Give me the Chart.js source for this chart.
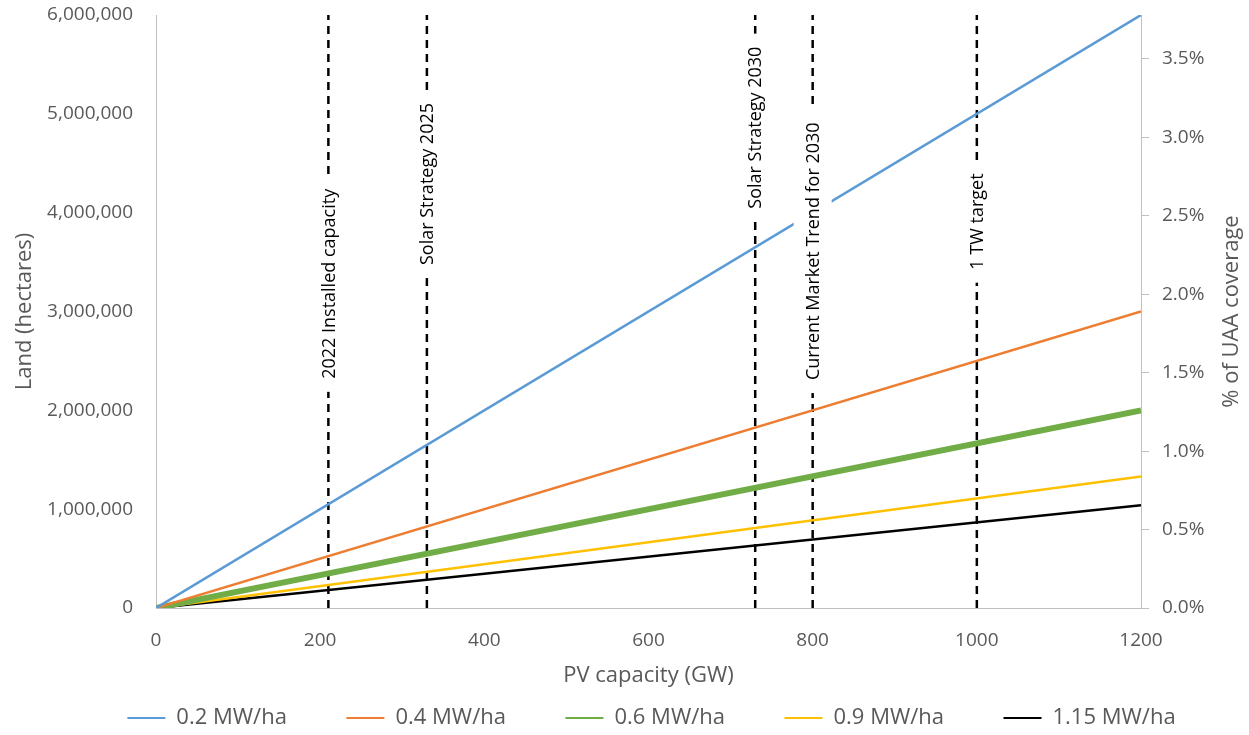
<!DOCTYPE html>
<html>
<head>
<meta charset="utf-8">
<script src="https://cdn.jsdelivr.net/npm/chart.js@4"></script>
<style>
  body { margin: 0; background: #fff; }
  canvas { display: block; }
</style>
</head>
<body>
<canvas id="landChart" width="1249" height="735"></canvas>
<script>
// PV capacity (GW) at the ends of each line
var capacity = [0, 1200]
// land needed (hectares) for each power density
var land02 = [0, 6000000]
var land04 = [0, 3000000]
var land06 = [0, 2000000]
var land09 = [0, 1330000]
var land115 = [0, 1040000]
var seriesNames = ['0.2 MW/ha', '0.4 MW/ha', '0.6 MW/ha', '0.9 MW/ha', '1.15 MW/ha']

// capacity milestones (GW) drawn as dashed verticals
var milestoneGW = [210, 330, 730, 800, 1000]
var milestoneNames = ['2022 Installed capacity', 'Solar Strategy 2025', 'Solar Strategy 2030',
                      'Current Market Trend for 2030', '1 TW target']
// where each milestone label sits, in hectares on the left axis
var milestoneLabelAt = [3280000, 4290000, 4860000, 3610000, 3910000]

var seriesColors = ['#5B9BD5', '#ED7D31', '#70AD47', '#FFC000', '#000000']
var seriesWidths = [2.5, 2.5, 6, 2.5, 2.5]
var GREY = '#595959'
var AXIS = '#BFBFBF'
var FONT = "'Open Sans', sans-serif"
var LEGEND_H = 35

function pairs(xs, ys) {
  return xs.map(function (x, i) { return {x: x, y: ys[i]} })
}

var datasets = [land02, land04, land06, land09, land115].map(function (vals, i) {
  return {
    label: seriesNames[i],
    data: pairs(capacity, vals),
    borderColor: seriesColors[i],
    backgroundColor: seriesColors[i],
    borderWidth: seriesWidths[i],
    pointRadius: 0,
    fill: false,
    yAxisID: 'y'
  }
})
milestoneGW.forEach(function (gw, i) {
  datasets.push({
    label: milestoneNames[i],
    isMilestone: true,
    data: pairs([gw, gw], [0, 6000000]),
    borderColor: '#000000',
    borderWidth: 2.5,
    borderDash: [8, 6],
    pointRadius: 0,
    fill: false,
    yAxisID: 'y'
  })
})

// legend items are spread wide (big label padding) but the legend box stays short
var legendSpacing = {
  id: 'legendSpacing',
  beforeLayout: function (chart) {
    var lg = chart.legend
    if (lg && !lg.patched) {
      var fit = lg.fit
      lg.fit = function () { fit.call(this); this.height = LEGEND_H }
      lg.patched = true
    }
  },
  afterLayout: function (chart) {
    var lg = chart.legend
    var pad = lg.options.labels.padding
    var size = lg.options.labels.font.size
    // put the row's middle at 718px
    lg.top = 718 - size / 2 - pad
  }
}

// white boxes with rotated captions over the milestone lines, plus right axis title
var milestoneLabels = {
  id: 'milestoneLabels',
  afterDatasetsDraw: function (chart) {
    var ctx = chart.ctx
    var xs = chart.scales.x, ys = chart.scales.y
    ctx.save()
    ctx.font = '18px ' + FONT
    milestoneGW.forEach(function (gw, i) {
      var px = xs.getPixelForValue(gw)
      var py = ys.getPixelForValue(milestoneLabelAt[i])
      var w = ctx.measureText(milestoneNames[i]).width
      ctx.fillStyle = '#ffffff'
      ctx.fillRect(px - 19, py - w / 2 - 13, 38, w + 26)
      ctx.save()
      ctx.translate(px, py)
      ctx.rotate(-Math.PI / 2)
      ctx.fillStyle = '#000000'
      ctx.textAlign = 'center'
      ctx.textBaseline = 'middle'
      ctx.fillText(milestoneNames[i], 0, 1)
      ctx.restore()
    })
    ctx.restore()
  },
  afterDraw: function (chart) {
    var ctx = chart.ctx
    var area = chart.chartArea
    ctx.save()
    ctx.font = '22px ' + FONT
    ctx.fillStyle = GREY
    ctx.translate(1232, (area.top + area.bottom) / 2)
    ctx.rotate(-Math.PI / 2)
    ctx.textAlign = 'center'
    ctx.textBaseline = 'middle'
    ctx.fillText('% of UAA coverage', 0, 0)
    ctx.restore()
  }
}

var chart = new Chart(document.getElementById('landChart'), {
  type: 'line',
  data: {datasets: datasets},
  plugins: [legendSpacing, milestoneLabels],
  options: {
    responsive: false,
    animation: false,
    devicePixelRatio: 1,
    layout: {padding: {top: 15, left: 42, right: -12, bottom: 0}},
    elements: {line: {tension: 0}},
    plugins: {
      tooltip: {enabled: false},
      legend: {
        position: 'bottom',
        labels: {
          boxWidth: 38,
          boxHeight: 2,
          padding: 59.5,
          color: GREY,
          font: {family: FONT, size: 22},
          generateLabels: function (chart) {
            var items = []
            chart.data.datasets.forEach(function (ds, i) {
              if (ds.isMilestone) return
              items.push({
                text: ds.label,
                fillStyle: ds.borderColor,
                strokeStyle: ds.borderColor,
                lineWidth: 0,
                hidden: false,
                datasetIndex: i,
                fontColor: GREY
              })
            })
            return items
          }
        }
      }
    },
    scales: {
      x: {
        type: 'linear',
        min: 0,
        max: 1200,
        afterFit: function (scale) { scale.height = 92 },
        ticks: {
          stepSize: 200,
          padding: 21,
          color: GREY,
          font: {family: FONT, size: 19},
          callback: function (v) { return String(v) }
        },
        grid: {drawOnChartArea: false, drawTicks: false},
        border: {color: AXIS, width: 1},
        title: {display: true, text: 'PV capacity (GW)', color: GREY,
                font: {family: FONT, size: 22}, padding: {top: 0, bottom: 10.8}}
      },
      y: {
        position: 'left',
        min: 0,
        max: 6000000,
        afterFit: function (scale) { scale.width = 114 },
        ticks: {
          stepSize: 1000000,
          padding: 3,
          color: GREY,
          font: {family: FONT, size: 19},
          callback: function (v) { return v.toLocaleString('en-US') }
        },
        grid: {drawOnChartArea: false, drawTicks: true, tickLength: 20, tickColor: 'rgba(0,0,0,0)'},
        border: {color: AXIS, width: 1},
        title: {display: true, text: 'Land (hectares)', color: GREY,
                font: {family: FONT, size: 22}, padding: {top: -30, bottom: 0}}
      },
      y2: {
        position: 'right',
        display: true,
        min: 0,
        max: 3.78,
        afterFit: function (scale) { scale.width = 120 },
        ticks: {
          stepSize: 0.5,
          includeBounds: false,
          padding: 0,
          color: GREY,
          font: {family: FONT, size: 19},
          callback: function (v) { return v.toFixed(1) + '%' }
        },
        grid: {drawOnChartArea: false, drawTicks: true, tickLength: 21,
               tickColor: AXIS, tickBorderDash: [7, 60]},
        border: {color: AXIS, width: 1}
      }
    }
  }
})
</script>
</body>
</html>
